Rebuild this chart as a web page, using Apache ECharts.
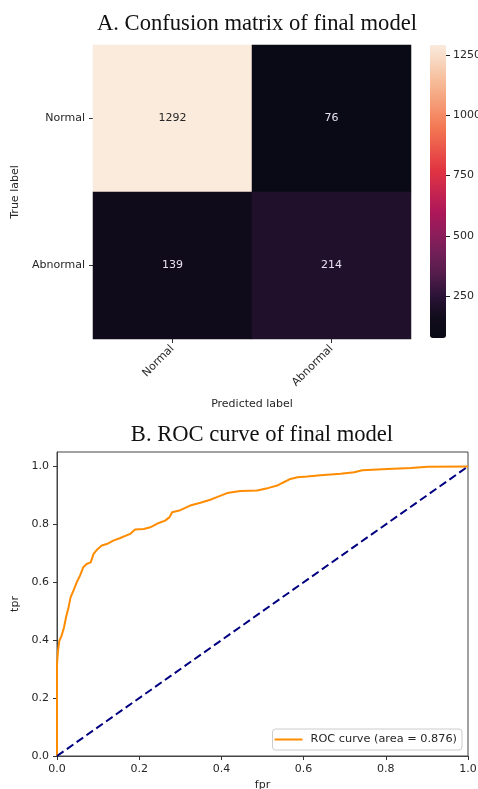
<!DOCTYPE html>
<html>
<head>
<meta charset="utf-8">
<script src="https://cdn.jsdelivr.net/npm/echarts@6/dist/echarts.min.js"></script>
<style>html,body{margin:0;padding:0;background:#fff}#c{width:478px;height:789px}</style>
</head>
<body>
<div id="c"></div>
<script>
// ---- Data ----
const predLabels = ['Normal', 'Abnormal'];
const trueLabels = ['Normal', 'Abnormal'];
const cmRowNormal = [1292, 76];
const cmRowAbnormal = [139, 214];
const colorbarTicks = [250, 500, 750, 1000, 1250];
const rocFpr = [0,0,0.0024,0.0057,0.011,0.017,0.022,0.028,0.033,0.040,0.048,0.056,0.064,0.072,0.082,0.089,0.097,0.109,0.121,0.137,0.154,0.178,0.190,0.211,0.227,0.243,0.263,0.274,0.280,0.300,0.324,0.349,0.373,0.389,0.414,0.446,0.487,0.515,0.536,0.548,0.568,0.585,0.609,0.641,0.690,0.723,0.743,0.804,0.861,0.902,1];
const rocTpr = [0,0.317,0.363,0.398,0.415,0.444,0.479,0.513,0.548,0.571,0.600,0.623,0.652,0.663,0.669,0.698,0.712,0.727,0.732,0.744,0.753,0.767,0.782,0.784,0.790,0.802,0.813,0.825,0.842,0.849,0.865,0.875,0.885,0.894,0.908,0.915,0.917,0.926,0.934,0.943,0.957,0.963,0.965,0.970,0.975,0.980,0.987,0.991,0.995,0.999,1];
const diagFpr = [0, 1];
const diagTpr = [0, 1];
const rocTicks = [0, 0.2, 0.4, 0.6, 0.8, 1.0];
const rocLegend = 'ROC curve (area = 0.876)';

// ---- Build ----
const rows = [cmRowNormal, cmRowAbnormal];
const allVals = rows.flat();
const vMin = Math.min(...allVals), vMax = Math.max(...allVals);
const heatData = [];
rows.forEach((r, yi) => r.forEach((v, xi) => {
  heatData.push({value: [xi, yi, v], label: {color: v > (vMin + vMax) / 2 ? '#262626' : '#e9e1f0'}});
}));
const roc = rocFpr.map((x, i) => [x, rocTpr[i]]);
const diag = diagFpr.map((x, i) => [x, diagTpr[i]]);
const rocket = ['#0a0a16','#110c1c','#2a1236','#521c4a','#701f57','#8e1d5a','#ad1759','#c72550','#e13342','#ea554a','#f37651','#f59570','#f6b48f','#f8d0b6','#faebdd'];
const F = 'DejaVu Sans';
const txt = {fontFamily: F, fontSize: 11, color: '#262626'};

const chart = echarts.init(document.getElementById('c'), null, {renderer: 'canvas'});
chart.setOption({
  animation: false,
  backgroundColor: '#fff',
  graphic: [
    {type: 'text', x: 257, y: 13, style: {text: 'A. Confusion matrix of final model', font: '22.6px "Liberation Serif"', fill: '#111', textAlign: 'center'}},
    {type: 'text', x: 262, y: 424, style: {text: 'B. ROC curve of final model', font: '22.6px "Liberation Serif"', fill: '#111', textAlign: 'center'}}
  ],
  grid: [
    {left: 93, top: 45, width: 318, height: 294, outerBoundsMode: 'none', containLabel: false},
    {left: 446, top: 45, width: 4, height: 293, outerBoundsMode: 'none', containLabel: false},
    {left: 57, top: 452, width: 411, height: 304, show: true, borderColor: '#444', borderWidth: 1, outerBoundsMode: 'none', containLabel: false}
  ],
  xAxis: [
    {type: 'category', gridIndex: 0, data: predLabels, name: 'Predicted label', nameLocation: 'middle', nameGap: 60, nameTextStyle: txt,
     axisLine: {show: false}, splitLine: {show: false}, axisTick: {show: true, alignWithLabel: true, length: 4, lineStyle: {color: '#333'}},
     axisLabel: Object.assign({rotate: 45, margin: 8}, txt)},
    {type: 'value', gridIndex: 1, show: false, min: 0, max: 1},
    {type: 'value', gridIndex: 2, min: 0, max: 1, name: 'fpr', nameLocation: 'middle', nameGap: 24, nameTextStyle: txt,
     axisLine: {show: true, lineStyle: {color: '#444'}}, splitLine: {show: false},
     axisTick: {show: true, length: 4, customValues: rocTicks, lineStyle: {color: '#333'}},
     axisLabel: Object.assign({customValues: rocTicks, margin: 8, formatter: v => v.toFixed(1)}, txt)}
  ],
  yAxis: [
    {type: 'category', gridIndex: 0, data: trueLabels, inverse: true, name: 'True label', nameLocation: 'middle', nameGap: 63, nameRotate: 90, nameTextStyle: txt,
     axisLine: {show: false}, splitLine: {show: false}, axisTick: {show: true, alignWithLabel: true, length: 4, lineStyle: {color: '#333'}},
     axisLabel: Object.assign({margin: 8}, txt)},
    {type: 'value', gridIndex: 1, position: 'left', min: vMin, max: vMax,
     axisLine: {show: false}, splitLine: {show: false},
     axisTick: {show: true, inside: true, length: 4, customValues: colorbarTicks, lineStyle: {color: '#222', width: 1}},
     axisLabel: Object.assign({inside: true, customValues: colorbarTicks, margin: 7, formatter: v => String(v)}, txt)},
    {type: 'value', gridIndex: 2, min: 0, max: 1.05, name: 'tpr', nameLocation: 'middle', nameGap: 29, nameRotate: 90, nameTextStyle: txt,
     axisLine: {show: true, lineStyle: {color: '#444'}}, splitLine: {show: false},
     axisTick: {show: true, length: 4, customValues: rocTicks, lineStyle: {color: '#333'}},
     axisLabel: Object.assign({customValues: rocTicks, margin: 8, formatter: v => v.toFixed(1)}, txt)}
  ],
  visualMap: [{
    type: 'continuous', min: vMin, max: vMax, seriesIndex: 0, calculable: false, hoverLink: false,
    left: 430, top: 45, itemWidth: 16, itemHeight: 293, padding: 0, text: null, showLabel: false,
    inRange: {color: rocket}
  }],
  legend: {
    data: [rocLegend], right: 16, bottom: 39, orient: 'vertical',
    icon: 'rect', itemWidth: 28, itemHeight: 2, itemGap: 4,
    padding: [5, 5, 5, 2], borderColor: '#ccc', borderWidth: 1, borderRadius: 3, backgroundColor: '#fff',
    textStyle: {fontFamily: F, fontSize: 11.3, color: '#262626', padding: [0, 0, 0, 3]}
  },
  series: [
    {type: 'heatmap', xAxisIndex: 0, yAxisIndex: 0, data: heatData,
     label: {show: true, fontFamily: F, fontSize: 11, formatter: p => String(p.value[2])}},
    {type: 'line', name: rocLegend, xAxisIndex: 2, yAxisIndex: 2, data: roc, showSymbol: false, symbol: 'none',
     lineStyle: {color: '#ff8c00', width: 2}, itemStyle: {color: '#ff8c00'}},
    {type: 'line', name: 'diag', xAxisIndex: 2, yAxisIndex: 2, data: diag, showSymbol: false, symbol: 'none',
     lineStyle: {color: '#000080', width: 2, type: [8, 4]}, itemStyle: {color: '#000080'}}
  ]
});
</script>
</body>
</html>
